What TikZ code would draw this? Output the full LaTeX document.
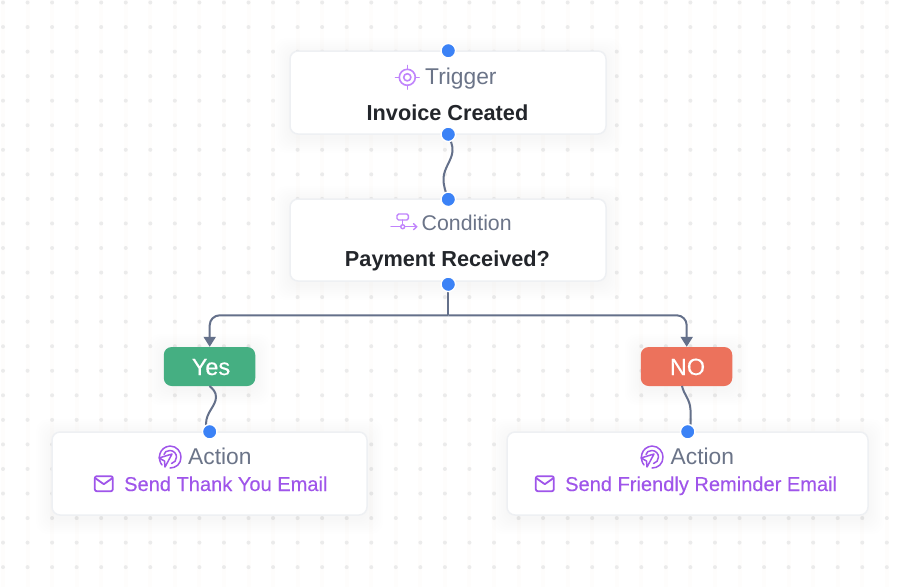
\documentclass[tikz,border=0pt]{standalone}
\usepackage{fontspec}
\setmainfont{Liberation Sans}
\usetikzlibrary{arrows.meta,calc}
\definecolor{slate}{HTML}{64708A}
\definecolor{labelgray}{HTML}{6B7488}
\definecolor{inkdark}{HTML}{23262B}
\definecolor{handleblue}{HTML}{3B82F6}
\definecolor{lilac}{HTML}{C084FC}
\definecolor{violet}{HTML}{9F55EA}
\definecolor{yesgreen}{HTML}{45AF82}
\definecolor{nored}{HTML}{EC725C}
\definecolor{cardline}{HTML}{EEF0F3}
\definecolor{griddot}{HTML}{EBEBEB}
\definecolor{gridband}{HTML}{FEFDFC}
\tikzset{
  x=1pt,y=-1pt,
  card/.style={draw=cardline,line width=1.5pt,fill=white,rounded corners=8pt,inner sep=0pt,outer sep=0pt,minimum height=83pt},
  pill/.style={rounded corners=8pt,inner sep=0pt,outer sep=0pt,minimum width=91.5pt,minimum height=39pt},
  pilltext/.style={text=white,inner sep=0pt,anchor=base,font=\fontsize{23.5}{23.5}\selectfont\addfontfeature{FakeBold=0.35}},
  handle/.style={circle,fill=handleblue,draw=white,line width=1.4pt,inner sep=0pt,outer sep=0pt,minimum size=14.5pt},
  conn/.style={draw=slate,line width=2pt},
  graylabel/.style={text=labelgray,inner sep=0pt,anchor=base west,font=\fontsize{21.3}{21.3}\selectfont},
  widegray/.style={text=labelgray,inner sep=0pt,anchor=base west,font=\fontsize{22.8}{22.8}\selectfont},
  boldlabel/.style={text=inkdark,inner sep=0pt,anchor=base,font=\fontsize{21.7}{21.7}\selectfont\bfseries},
  violetlabel/.style={text=violet,inner sep=0pt,anchor=base west,font=\fontsize{20.05}{20.05}\selectfont\addfontfeature{FakeBold=0.2}},
  iconline/.style={draw=#1,line width=1.5pt,line cap=round,line join=round},
  tip/.style={-{Triangle[length=10pt,width=12pt]}},
}
\newcommand{\softshadow}[2][8]{%
  \foreach \k in {1,...,#1}{
    \fill[black,opacity=.003,rounded corners=12pt]
      ($(#2.south west)+(-2*\k,2*\k+3)$) rectangle ($(#2.north east)+(2*\k,-2*\k+3)$);
  }}
\newcommand{\actionicon}[2]{%
  \begin{scope}[shift={(#1,#2)}]
    \draw[iconline=violet,line width=1.5pt] (-8,8) .. controls (-13,2) and (-11,-10) .. (0,-11) .. controls (7,-11) and (11,-5) .. (11,0) .. controls (11,7) and (6,11) .. (0,11);
    \draw[iconline=violet,line width=1.5pt] (-6,-2.5) .. controls (-6,-5) and (-3,-6.5) .. (0,-6.5) .. controls (4,-6.5) and (6.5,-3) .. (6.5,0) .. controls (6.5,3) and (4.5,6) .. (1.5,6.5);
    \draw[iconline=violet,line width=1.5pt] (-11,1) -- (2,-3) -- (-5,10) -- (-5.5,4) -- cycle;
  \end{scope}}
\newcommand{\mailicon}[2]{%
  \begin{scope}[shift={(#1,#2)}]
    \draw[iconline=violet,line width=1.8pt,rounded corners=2pt] (-9,-7.5) rectangle (9,7.5);
    \draw[iconline=violet,line width=1.8pt] (-8.5,-5.5) -- (0,0.5) -- (8.5,-5.5);
  \end{scope}}
\begin{document}
\begin{tikzpicture}
\useasboundingbox (0,0) rectangle (909,587);
\fill[white] (0,0) rectangle (909,587);
% dotted background
\foreach \i in {0,...,36}{
  \fill[gridband] ({3+24.55*\i-2},0) rectangle ({3+24.55*\i+2},587);
}
\foreach \i in {0,...,36}{
  \foreach \j in {0,...,23}{
    \fill[griddot] ({3+24.55*\i},{2.5+24.55*\j}) circle[radius=2];
  }
}
% invisible frames that carry the shadows
\path node[minimum width=316pt,minimum height=83pt,inner sep=0pt,outer sep=0pt] (trigshadow) at (448,92.5) {}
      node[minimum width=316pt,minimum height=82pt,inner sep=0pt,outer sep=0pt] (condshadow) at (448,240) {}
      node[minimum width=91.5pt,minimum height=39pt,inner sep=0pt,outer sep=0pt] (yesshadow) at (209.5,366.5) {}
      node[minimum width=91.5pt,minimum height=39pt,inner sep=0pt,outer sep=0pt] (noshadow) at (686.5,366.5) {}
      node[minimum width=315pt,minimum height=83pt,inner sep=0pt,outer sep=0pt] (actlshadow) at (209.5,473.5) {}
      node[minimum width=361pt,minimum height=83pt,inner sep=0pt,outer sep=0pt] (actrshadow) at (687.5,473.5) {};
\softshadow{trigshadow}
\softshadow{condshadow}
\softshadow{yesshadow}
\softshadow{noshadow}
\softshadow{actlshadow}
\softshadow{actrshadow}
% boxes
\node[card,minimum width=316pt] (trigger) at (448,92.5) {};
\node[card,minimum width=316pt,minimum height=82pt] (condition) at (448,240) {};
\node[pill,fill=yesgreen] (yes) at (209.5,366.5) {};
\node[pill,fill=nored] (no) at (686.5,366.5) {};
\node[pilltext] (yeslabel) at (211,375) {Yes};
\node[pilltext] (nolabel) at (687.5,375) {NO};
\node[card,minimum width=315pt] (actionl) at (209.5,473.5) {};
\node[card,minimum width=361pt] (actionr) at (687.5,473.5) {};
% handles' positions
\coordinate (h1) at (448.3,50.7);
\coordinate (h2) at (448.3,134.3);
\coordinate (h3) at (448.3,199.3);
\coordinate (h4) at (448.3,284.3);
\coordinate (h5) at (209.7,431.7);
\coordinate (h6) at (687.7,431.7);
\coordinate (fork) at (448.3,315.3);
\coordinate (yesin) at (209.7,346.8);
\coordinate (noin) at (686.7,346.8);
% connectors
\draw[conn] (h2) .. controls (450,140) and (453,145) .. (452.5,151)
   .. controls (452,160) and (444,168) .. (443.5,178)
   .. controls (443.2,186) and (446,193) .. (h3);
\draw[conn] (h4) -- (fork);
\draw[conn,rounded corners=10pt,tip] (fork) -| (yesin);
\draw[conn,rounded corners=10pt,tip] (fork) -| (noin);
\draw[conn] (yes.south) ++(0,0) .. controls (213,389) and (216,392) .. (216,397)
   .. controls (216,406) and (206,412) .. (206,424) -- (h5);
\draw[conn] (no.south) ++(-4.5,0) .. controls (684,395) and (690,399) .. (690.5,410)
   -- (690.5,424) -- (h6);
% handles
\node[handle] (trigtop) at (h1) {};
\node[handle] (trigbot) at (h2) {};
\node[handle] (condtop) at (h3) {};
\node[handle] (condbot) at (h4) {};
\node[handle] (actl) at (h5) {};
\node[handle] (actr) at (h6) {};
% trigger card
\begin{scope}[shift={(407.3,77.3)}]
  \draw[iconline=lilac,line width=1.6pt] (0,0) circle[radius=8];
  \draw[iconline=lilac,line width=1.6pt] (0,0) circle[radius=3.6];
  \foreach \a in {0,90,180,270}{\draw[iconline=lilac,line width=1.6pt] (\a:8) -- (\a:11.8);}
\end{scope}
\node[widegray] (triglabel) at (425,84) {Trigger};
\node[boldlabel] (trigtext) at (447.5,120) {Invoice Created};
% condition card
\begin{scope}[shift={(391,213)}]
  \draw[iconline=lilac,line width=1.4pt,rounded corners=1.5pt] (6,1) rectangle (17.3,7);
  \draw[iconline=lilac,line width=1.4pt] (11.7,7) -- (11.7,11.7);
  \draw[iconline=lilac,line width=1.4pt] (0,13.7) -- (9.7,13.7);
  \draw[iconline=lilac,line width=1.4pt] (11.7,13.7) circle[radius=2];
  \draw[iconline=lilac,line width=1.4pt] (13.7,13.7) -- (25.7,13.7);
  \draw[iconline=lilac,line width=1.4pt] (22.5,10.7) -- (25.7,13.7) -- (22.5,16.7);
\end{scope}
\node[graylabel] (condlabel) at (421.5,230) {Condition};
\node[boldlabel] (condtext) at (447.5,266) {Payment Received?};
% action cards
\actionicon{170}{457}
\node[widegray] (actllabel) at (188,464.5) {Action};
\mailicon{103.8}{483.7}
\node[violetlabel] (actltext) at (124,491) {Send Thank You Email};
\actionicon{652}{457}
\node[widegray] (actrlabel) at (670.5,464.5) {Action};
\mailicon{544.8}{483.7}
\node[violetlabel] (actrtext) at (565,491) {Send Friendly Reminder Email};
\end{tikzpicture}
\end{document}
